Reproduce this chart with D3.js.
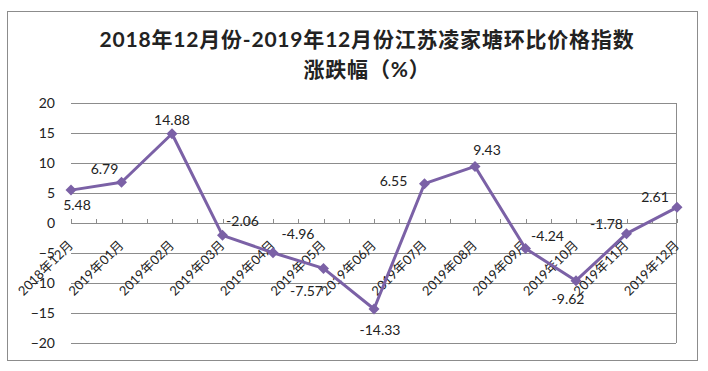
<!DOCTYPE html>
<html>
<head>
<meta charset="utf-8">
<script src="https://cdn.jsdelivr.net/npm/d3@7"></script>
<style>
  body { margin: 0; background: #fff; }
  text { font-family: Lato, "Noto Sans CJK SC", sans-serif; fill: #222; }
</style>
</head>
<body>
<div id="chart"></div>
<script>
// Chart data
const months = ["2018年12月", "2019年01月", "2019年02月", "2019年03月", "2019年04月", "2019年05月", "2019年06月",
    "2019年07月", "2019年08月", "2019年09月", "2019年10月", "2019年11月", "2019年12月"];
const changes = [5.48, 6.79, 14.88, -2.06, -4.96, -7.57, -14.33, 6.55, 9.43, -4.24, -9.62, -1.78, 2.61];
const yTicks = [20, 15, 10, 5, 0, -5, -10, -15, -20];
const titleLines = ["2018年12月份-2019年12月份江苏凌家塘环比价格指数", "涨跌幅（%）"];

// Label offsets relative to each point (hand placed, like the original)
const labelOffsets = [[6, 15], [-17, -13], [0, -14], [20, -14], [25, -19], [-17, 23], [6, 21],
    [-31, -3], [12, -16], [22, -12], [-8, 18], [-20, -10], [-22, -10]];

const svgWidth = 708;
const svgHeight = 371;
const margin = { top: 103, right: 32, bottom: 28, left: 71 };
const width = svgWidth - margin.left - margin.right;
const height = svgHeight - margin.top - margin.bottom;

const svg = d3.select("#chart")
    .append("svg")
    .attr("width", svgWidth)
    .attr("height", svgHeight);

// Outer frame
svg.append("rect")
    .attr("x", 7.5)
    .attr("y", 11.5)
    .attr("width", 690)
    .attr("height", 349)
    .attr("fill", "none")
    .attr("stroke", "#8c8c8c");

// Title
svg.selectAll(".title")
    .data(titleLines)
    .enter()
    .append("text")
    .attr("class", "title")
    .attr("x", 367)
    .attr("y", (d, i) => 47 + i * 30)
    .attr("text-anchor", "middle")
    .attr("font-size", "21px")
    .attr("font-weight", "bold")
    .attr("letter-spacing", "0.8px")
    .text(d => d);

const chartGroup = svg.append("g")
    .attr("transform", `translate(${margin.left}, ${margin.top})`);

// Scales
const xScale = d3.scalePoint()
    .domain(months)
    .range([0, width + 1]);

const yScale = d3.scaleLinear()
    .domain([-20, 20])
    .range([height, 0]);

// Gridlines
chartGroup.append("g")
    .selectAll("line")
    .data(yTicks)
    .enter()
    .append("line")
    .attr("x1", 0)
    .attr("x2", width)
    .attr("y1", d => Math.round(yScale(d)) + 0.5)
    .attr("y2", d => Math.round(yScale(d)) + 0.5)
    .attr("stroke", "#8c8c8c");

// Right edge of the plot area
chartGroup.append("line")
    .attr("x1", width + 0.5)
    .attr("x2", width + 0.5)
    .attr("y1", 0)
    .attr("y2", height)
    .attr("stroke", "#8c8c8c");

// Y axis labels
const leftAxis = d3.axisLeft(yScale)
    .tickValues(yTicks)
    .tickSize(0)
    .tickPadding(16);

chartGroup.append("g")
    .call(leftAxis)
    .call(g => g.select(".domain").remove())
    .selectAll("text")
    .attr("font-size", "14px")
    .attr("font-family", "Lato, sans-serif")
    .attr("fill", "#222");

// Tick marks on the zero line (on points and between them)
const step = xScale.step();
const tickPos = d3.range(0, months.length * 2 - 1).map(i => i * step / 2);
chartGroup.append("g")
    .selectAll("line")
    .data(tickPos)
    .enter()
    .append("line")
    .attr("x1", d => Math.round(d) + 0.5)
    .attr("x2", d => Math.round(d) + 0.5)
    .attr("y1", Math.round(yScale(0)) - 4)
    .attr("y2", Math.round(yScale(0)))
    .attr("stroke", "#8c8c8c");

// X axis labels, rotated
chartGroup.append("g")
    .selectAll("text")
    .data(months)
    .enter()
    .append("text")
    .attr("transform", d => `translate(${xScale(d) + 3}, ${yScale(0) + 23}) rotate(-45)`)
    .attr("text-anchor", "end")
    .attr("font-size", "13px")
    .text(d => d);

// Line
const line = d3.line()
    .x((d, i) => xScale(months[i]))
    .y(d => yScale(d));

chartGroup.append("path")
    .datum(changes)
    .attr("d", line)
    .attr("fill", "none")
    .attr("stroke", "#7b61a6")
    .attr("stroke-width", 3)
    .attr("stroke-linejoin", "round");

// Diamond markers
chartGroup.selectAll(".marker")
    .data(changes)
    .enter()
    .append("path")
    .attr("class", "marker")
    .attr("transform", (d, i) => `translate(${xScale(months[i])}, ${yScale(d)})`)
    .attr("d", "M0,-5.5L5.5,0L0,5.5L-5.5,0Z")
    .attr("fill", "#7b61a6");

// Data labels
chartGroup.selectAll(".dataLabel")
    .data(changes)
    .enter()
    .append("text")
    .attr("class", "dataLabel")
    .attr("x", (d, i) => xScale(months[i]) + labelOffsets[i][0])
    .attr("y", (d, i) => yScale(d) + labelOffsets[i][1])
    .attr("dy", "0.36em")
    .attr("text-anchor", "middle")
    .attr("font-size", "14px")
    .text(d => d.toFixed(2));
</script>
</body>
</html>
